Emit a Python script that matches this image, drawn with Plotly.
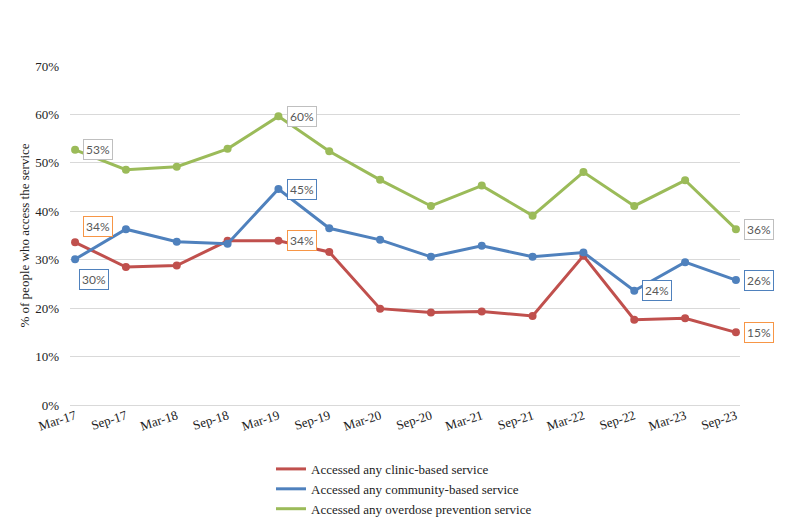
import plotly.graph_objects as go

periods = ["Mar-17", "Sep-17", "Mar-18", "Sep-18", "Mar-19", "Sep-19", "Mar-20",
           "Sep-20", "Mar-21", "Sep-21", "Mar-22", "Sep-22", "Mar-23", "Sep-23"]
clinic = [33.6, 28.5, 28.8, 33.9, 33.9, 31.6, 19.9, 19.1, 19.3, 18.4, 30.8, 17.6, 17.9, 15.0]
community = [30.1, 36.3, 33.7, 33.3, 44.6, 36.5, 34.1, 30.6, 32.9, 30.6, 31.5, 23.6, 29.5, 25.8]
overdose = [52.7, 48.6, 49.2, 52.9, 59.6, 52.4, 46.5, 41.1, 45.3, 39.1, 48.1, 41.1, 46.4, 36.3]
y_ticks = [0, 10, 20, 30, 40, 50, 60, 70]
y_tick_labels = [f"{v}%" for v in y_ticks]

series = [
    ("Accessed any clinic-based service", clinic, "#c0504d", "#f79646"),
    ("Accessed any community-based service", community, "#4f81bd", "#4f81bd"),
    ("Accessed any overdose prevention service", overdose, "#9bbb59", "#bfbfbf"),
]

# which points get a data label: (series index, point index, x shift, y shift)
label_spec = [
    (2, 0, 8, 0), (2, 4, 9, 0), (2, 13, 8, 0),
    (1, 0, 4, 20), (1, 4, 9, 0), (1, 11, 8, 0), (1, 13, 8, 0),
    (0, 0, 8, -16), (0, 4, 9, 0), (0, 13, 8, 0),
]

serif = "Liberation Serif, Times New Roman, serif"

fig = go.Figure()
for name, vals, color, _ in series:
    fig.add_trace(go.Scatter(
        x=periods, y=vals, name=name, mode="lines+markers",
        line=dict(color=color, width=3),
        marker=dict(color=color, size=8),
        showlegend=False,
    ))
# legend entries show only a line, as in the reference
for name, vals, color, _ in series:
    fig.add_trace(go.Scatter(
        x=[None], y=[None], name=name, mode="lines",
        line=dict(color=color, width=3), showlegend=True,
    ))

annotations = []
for si, pi, dx, dy in label_spec:
    _, vals, _, border = series[si]
    annotations.append(dict(
        x=periods[pi], y=vals[pi], xref="x", yref="y",
        text=f"{vals[pi]:.0f}%", showarrow=False,
        xanchor="left", yanchor="middle", xshift=dx, yshift=-dy,
        font=dict(family="Lato, Calibri, sans-serif", size=12, color="#595959"),
        bgcolor="white", bordercolor=border, borderwidth=1, borderpad=2,
    ))

fig.update_layout(
    width=794, height=523,
    margin=dict(l=70, r=54, t=66, b=118),
    plot_bgcolor="white", paper_bgcolor="white",
    showlegend=True,
    legend=dict(
        x=0.30, y=0.132, xref="paper", yref="container",
        xanchor="left", yanchor="top",
        font=dict(family=serif, size=13, color="#222"),
        bgcolor="rgba(0,0,0,0)", tracegroupgap=0,
    ),
    annotations=annotations,
    xaxis=dict(
        type="category", range=[-0.1, 13.08], showgrid=False, zeroline=False,
        showline=False, tickangle=-18, ticks="",
        tickfont=dict(family=serif, size=13, color="#222"),
    ),
    yaxis=dict(
        range=[0, 70], tickvals=y_ticks, ticktext=y_tick_labels,
        showgrid=True, gridcolor="#d9d9d9", gridwidth=1,
        zeroline=True, zerolinecolor="#d9d9d9", zerolinewidth=1,
        showline=False, ticks="", ticklabelstandoff=10,
        tickfont=dict(family=serif, size=13, color="#222"),
        title=dict(text="% of people who access the service",
                   font=dict(family=serif, size=13, color="#222"), standoff=2),
    ),
)

fig.write_html("out.html")
